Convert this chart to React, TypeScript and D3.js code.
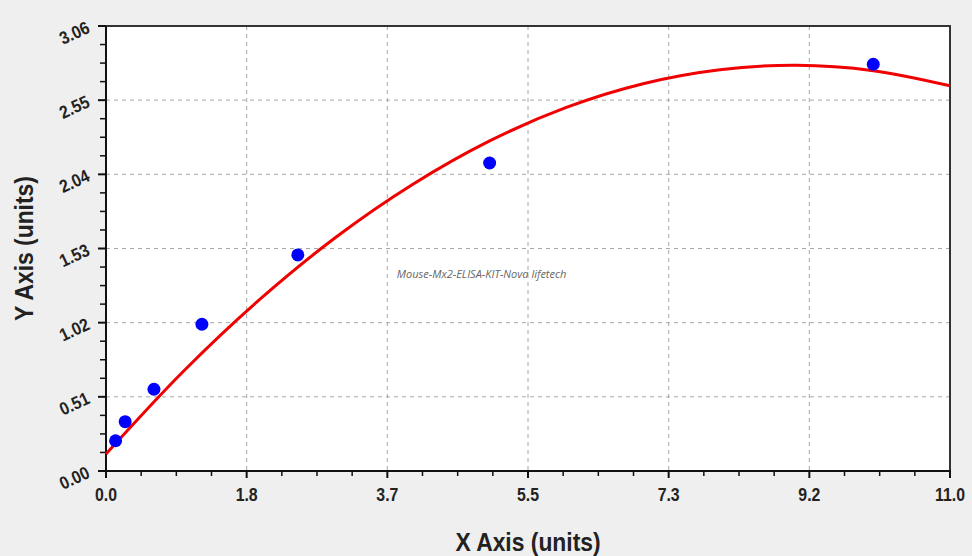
import { useEffect, useRef } from 'react';
import * as d3 from 'd3';

// standard points (x = concentration, y = OD)
const pointX = [0.125, 0.25, 0.625, 1.25, 2.5, 5, 10];
const pointY = [0.208, 0.339, 0.562, 1.009, 1.486, 2.118, 2.797];

// fitted curve
const fitX = [0, 1, 2, 3, 4, 5, 6, 7, 8, 9, 10, 11];
const fitY = [0.117, 0.681, 1.178, 1.609, 1.972, 2.27, 2.5, 2.663, 2.759, 2.79, 2.753, 2.649];

const xTicks = [0, 1.8333, 3.6667, 5.5, 7.3333, 9.1667, 11];
const xTickLabels = ['0.0', '1.8', '3.7', '5.5', '7.3', '9.2', '11.0'];
const yTicks = [0, 0.51, 1.02, 1.53, 2.04, 2.55, 3.06];
const yTickLabels = ['0.00', '0.51', '1.02', '1.53', '2.04', '2.55', '3.06'];

const watermark = 'Mouse-Mx2-ELISA-KIT-Nova lifetech';

const App = (): JSX.Element => {
  const svgRef = useRef<SVGSVGElement>(null);

  useEffect(() => {
    const width = 972;
    const height = 556;
    const margin = { top: 26, right: 22, bottom: 85, left: 106 };
    const font = '"Liberation Sans", Arial, sans-serif';
    const squeeze = 0.88;

    const svg = d3.select(svgRef.current)
      .attr('width', width)
      .attr('height', height);

    svg.append('rect')
      .attr('width', width)
      .attr('height', height)
      .attr('fill', '#efefef');

    const x = d3.scaleLinear().domain([0, 11]).range([margin.left, width - margin.right]);
    const y = d3.scaleLinear().domain([0, 3.06]).range([height - margin.bottom, margin.top]);

    const [x0, x1] = x.range();
    const [y0, y1] = y.range();

    svg.append('rect')
      .attr('x', x0)
      .attr('y', y1)
      .attr('width', x1 - x0)
      .attr('height', y0 - y1)
      .attr('fill', '#ffffff');

    // grid
    const grid = svg.append('g')
      .attr('stroke', '#a8a8a8')
      .attr('stroke-width', 1)
      .attr('stroke-dasharray', '4,4');
    grid.selectAll('line.gx')
      .data(xTicks.slice(1, -1))
      .enter()
      .append('line')
      .attr('x1', d => x(d))
      .attr('x2', d => x(d))
      .attr('y1', y1)
      .attr('y2', y0);
    grid.selectAll('line.gy')
      .data(yTicks.slice(1, -1))
      .enter()
      .append('line')
      .attr('class', 'gy')
      .attr('x1', x0)
      .attr('x2', x1)
      .attr('y1', d => y(d))
      .attr('y2', d => y(d));

    // minor ticks, 3 between each pair of major ticks
    const minor = (ticks: number[]) => ticks.slice(0, -1).flatMap((t, i) => {
      const step = (ticks[i + 1] - t) / 4;
      return [1, 2, 3].map(k => t + k * step);
    });

    const axes = svg.append('g').attr('stroke', '#111');
    axes.selectAll('line.xmaj')
      .data(xTicks)
      .enter()
      .append('line')
      .attr('x1', d => x(d))
      .attr('x2', d => x(d))
      .attr('y1', y0)
      .attr('y2', y0 + 7)
      .attr('stroke-width', 2);
    axes.selectAll('line.xmin')
      .data(minor(xTicks))
      .enter()
      .append('line')
      .attr('class', 'xmin')
      .attr('x1', d => x(d))
      .attr('x2', d => x(d))
      .attr('y1', y0)
      .attr('y2', y0 + 5)
      .attr('stroke-width', 1.5);
    axes.selectAll('line.ymaj')
      .data(yTicks)
      .enter()
      .append('line')
      .attr('class', 'ymaj')
      .attr('x1', x0 - 8)
      .attr('x2', x0)
      .attr('y1', d => y(d))
      .attr('y2', d => y(d))
      .attr('stroke-width', 2);
    axes.selectAll('line.ymin')
      .data(minor(yTicks))
      .enter()
      .append('line')
      .attr('class', 'ymin')
      .attr('x1', x0 - 6)
      .attr('x2', x0)
      .attr('y1', d => y(d))
      .attr('y2', d => y(d))
      .attr('stroke-width', 1.5);

    // frame
    svg.append('path')
      .attr('d', `M${x0},${y1}H${x1}V${y0}`)
      .attr('fill', 'none')
      .attr('stroke', '#333')
      .attr('stroke-width', 2);
    svg.append('path')
      .attr('d', `M${x0},${y1}V${y0}H${x1 + 1}`)
      .attr('fill', 'none')
      .attr('stroke', '#111')
      .attr('stroke-width', 2);

    // tick labels
    svg.selectAll('text.xl')
      .data(xTicks)
      .enter()
      .append('text')
      .attr('class', 'xl')
      .attr('transform', d => `translate(${x(d)},${y0 + 30}) scale(${squeeze},1)`)
      .attr('text-anchor', 'middle')
      .attr('font-family', font)
      .attr('font-weight', 'bold')
      .attr('font-size', 18)
      .attr('fill', '#222')
      .text((_d, i) => xTickLabels[i]);

    svg.selectAll('text.yl')
      .data(yTicks)
      .enter()
      .append('text')
      .attr('class', 'yl')
      .attr('transform', d => `translate(${x0 - 15},${y(d) + 6}) rotate(-25) scale(${squeeze},1)`)
      .attr('text-anchor', 'end')
      .attr('font-family', font)
      .attr('font-weight', 'bold')
      .attr('font-size', 18)
      .attr('fill', '#222')
      .text((_d, i) => yTickLabels[i]);

    // axis titles
    svg.append('text')
      .attr('transform', `translate(${(x0 + x1) / 2},${height - 5}) scale(${squeeze},1)`)
      .attr('text-anchor', 'middle')
      .attr('font-family', font)
      .attr('font-weight', 'bold')
      .attr('font-size', 26)
      .attr('fill', '#222')
      .text('X Axis (units)');

    svg.append('text')
      .attr('transform', `translate(33,${(y0 + y1) / 2}) rotate(-90) scale(${squeeze},1)`)
      .attr('text-anchor', 'middle')
      .attr('font-family', font)
      .attr('font-weight', 'bold')
      .attr('font-size', 26)
      .attr('fill', '#222')
      .text('Y Axis (units)');

    // watermark
    svg.append('text')
      .attr('x', x(3.79))
      .attr('y', y(1.33))
      .attr('font-family', '"Open Sans", sans-serif')
      .attr('font-style', 'italic')
      .attr('font-size', 11)
      .attr('fill', '#666')
      .text(watermark);

    // fitted curve
    const line = d3.line<number>()
      .x((_d, i) => x(fitX[i]))
      .y(d => y(d))
      .curve(d3.curveCatmullRom);
    svg.append('path')
      .attr('d', line(fitY))
      .attr('fill', 'none')
      .attr('stroke', '#f00000')
      .attr('stroke-width', 3);

    // points
    svg.selectAll('circle')
      .data(pointY)
      .enter()
      .append('circle')
      .attr('cx', (_d, i) => x(pointX[i]))
      .attr('cy', d => y(d))
      .attr('r', 6.5)
      .attr('fill', '#0000ff');

    return () => {
      d3.select(svgRef.current).selectAll('*').remove();
    };
  }, []);

  return (
    <div style={{ position: 'fixed', left: 0, top: 0 }}>
      <svg ref={svgRef} style={{ display: 'block' }}></svg>
    </div>
  );
};

export default App;
